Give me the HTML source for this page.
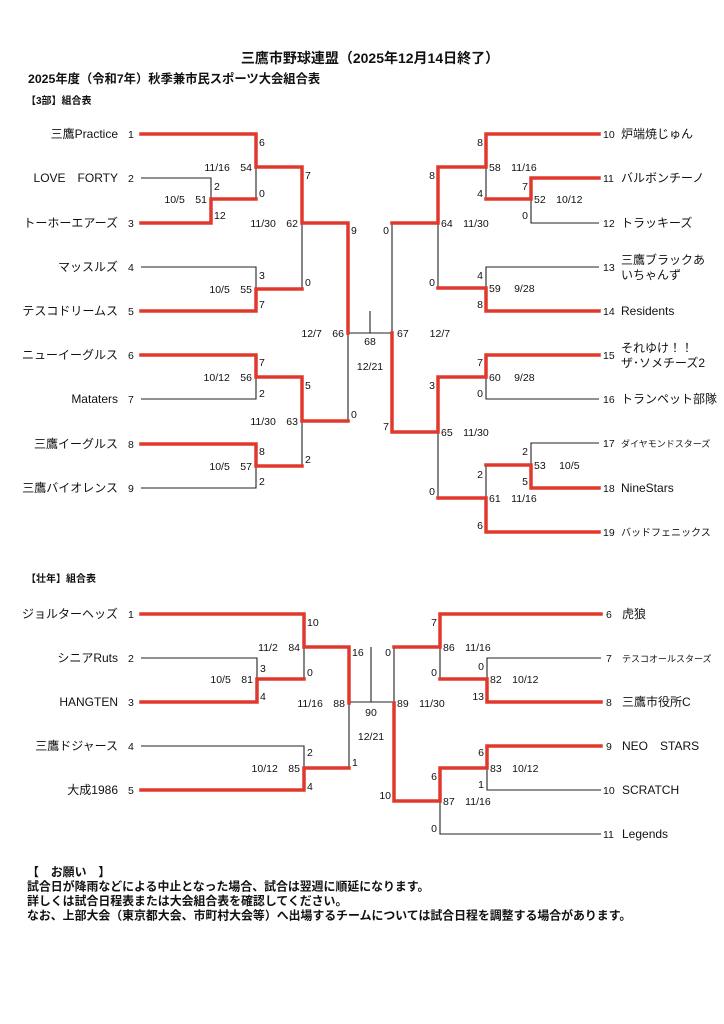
<!DOCTYPE html>
<html><head><meta charset="utf-8"><style>
html,body{margin:0;padding:0;background:#fff;}
svg{display:block;}
text{font-family:"Liberation Sans","Noto Sans CJK JP",sans-serif;fill:#111;}
.t{font-size:12px;}
.s{font-size:10.5px;}
.h{font-weight:bold;}
.r{fill:none;stroke:#e0392c;stroke-width:3.5;stroke-linejoin:miter;stroke-linecap:square;}
.k{fill:none;stroke:#222;stroke-width:1.1;}
</style></head><body>
<svg width="724" height="1024" viewBox="0 0 724 1024" xmlns="http://www.w3.org/2000/svg">
<text x="370" y="63" text-anchor="middle" class="h" font-size="14">三鷹市野球連盟（2025年12月14日終了）</text>
<text x="28" y="83" class="h" font-size="12.3">2025年度（令和7年）秋季兼市民スポーツ大会組合表</text>
<text x="26" y="104" class="h" font-size="10">【3部】組合表</text>
<text x="26" y="582" class="h" font-size="10">【壮年】組合表</text>

<!-- TOP LEFT black -->
<path class="k" d="M141 178H211V199 M256 167V199 M141 267H256V289 M302 223V289 M141 399H256V377 M302 421V466 M141 488H256V466 M348 333V421 M348 333H392 M370 311V333 M392 223V333"/>
<!-- TOP LEFT red -->
<path class="r" d="M141 134H256V167H302V223H348V333"/>
<path class="r" d="M141 223H211V199H256"/>
<path class="r" d="M141 311H256V289H302"/>
<path class="r" d="M141 355H256V377H302V421H348"/>
<path class="r" d="M141 444H256V466H302"/>
<!-- TOP RIGHT black -->
<path class="k" d="M486 167V199 M599 223H531V199 M438 223V288 M599 267H486V288 M599 399H486V377 M438 432V498 M599 443H531V465 M486 465V498"/>
<path class="r" d="M599 134H486V167H438V223H392"/>
<path class="r" d="M599 178H531V199H486"/>
<path class="r" d="M599 311H486V288H438"/>
<path class="r" d="M599 355H486V377H438V432H392V333"/>
<path class="r" d="M599 488H531V465H486"/>
<path class="r" d="M599 532H486V498H438"/>

<!-- top left names -->
<g class="t" text-anchor="end">
<text x="118" y="138">三鷹Practice</text>
<text x="118" y="182">LOVE　FORTY</text>
<text x="118" y="227">トーホーエアーズ</text>
<text x="118" y="271">マッスルズ</text>
<text x="118" y="315">テスコドリームス</text>
<text x="118" y="359">ニューイーグルス</text>
<text x="118" y="403">Mataters</text>
<text x="118" y="448">三鷹イーグルス</text>
<text x="118" y="492">三鷹バイオレンス</text>
</g>
<g class="s">
<text x="128" y="138">1</text><text x="128" y="182">2</text><text x="128" y="227">3</text><text x="128" y="271">4</text><text x="128" y="315">5</text><text x="128" y="359">6</text><text x="128" y="403">7</text><text x="128" y="448">8</text><text x="128" y="492">9</text>
<text x="259" y="146">6</text><text x="214" y="190">2</text><text x="259" y="197">0</text><text x="214" y="219">12</text>
<text x="305" y="179">7</text><text x="351" y="234">9</text>
<text x="259" y="279">3</text><text x="305" y="286">0</text><text x="259" y="308">7</text>
<text x="259" y="366">7</text><text x="305" y="389">5</text><text x="259" y="397">2</text><text x="351" y="418">0</text>
<text x="259" y="455">8</text><text x="305" y="463">2</text><text x="259" y="485">2</text>
</g>
<g class="s" text-anchor="end">
<text x="252" y="171">11/16　54</text>
<text x="207" y="203">10/5　51</text>
<text x="298" y="227">11/30　62</text>
<text x="252" y="293">10/5　55</text>
<text x="344" y="337">12/7　66</text>
<text x="252" y="381">10/12　56</text>
<text x="298" y="425">11/30　63</text>
<text x="252" y="470">10/5　57</text>
</g>
<g class="s" text-anchor="middle">
<text x="370" y="345">68</text>
<text x="370" y="370">12/21</text>
</g>
<g class="s">
<text x="397" y="337">67　　12/7</text>
<text x="489" y="171">58　11/16</text>
<text x="534" y="203">52　10/12</text>
<text x="441" y="227">64　11/30</text>
<text x="489" y="292">59　 9/28</text>
<text x="489" y="381">60　 9/28</text>
<text x="441" y="436">65　11/30</text>
<text x="534" y="469">53　 10/5</text>
<text x="489" y="502">61　11/16</text>
</g>
<g class="s" text-anchor="end">
<text x="389" y="234">0</text><text x="389" y="430">7</text>
<text x="483" y="146">8</text><text x="435" y="179">8</text><text x="528" y="190">7</text><text x="483" y="197">4</text><text x="528" y="219">0</text>
<text x="483" y="279">4</text><text x="435" y="286">0</text><text x="483" y="308">8</text>
<text x="483" y="366">7</text><text x="435" y="389">3</text><text x="483" y="397">0</text>
<text x="528" y="455">2</text><text x="483" y="478">2</text><text x="528" y="485">5</text><text x="435" y="495">0</text><text x="483" y="529">6</text>
</g>
<g class="s">
<text x="603" y="138">10</text><text x="603" y="182">11</text><text x="603" y="227">12</text><text x="603" y="271">13</text><text x="603" y="315">14</text><text x="603" y="359">15</text><text x="603" y="403">16</text><text x="603" y="447">17</text><text x="603" y="492">18</text><text x="603" y="536">19</text>
</g>
<g class="t">
<text x="621" y="138">炉端焼じゅん</text>
<text x="621" y="182">バルボンチーノ</text>
<text x="621" y="227">トラッキーズ</text>
<text x="621" y="264">三鷹ブラックあ</text>
<text x="621" y="279">いちゃんず</text>
<text x="621" y="315">Residents</text>
<text x="621" y="352">それゆけ！！</text>
<text x="621" y="367">ザ･ソメチーズ2</text>
<text x="621" y="403">トランペット部隊</text>
<text x="621" y="447" font-size="9">ダイヤモンドスターズ</text>
<text x="621" y="492">NineStars</text>
<text x="621" y="536" font-size="10">バッドフェニックス</text>
</g>

<!-- BOTTOM -->
<path class="k" d="M141 658H257V679 M304 647V679 M141 746H304V768 M349 703V768 M349 702H394 M371 647V702 M394 647V703 M440 647V679 M601 658H487V679 M601 790H487V768 M601 834H440V801"/>
<path class="r" d="M141 614H304V647H349V703"/>
<path class="r" d="M141 702H257V679H304"/>
<path class="r" d="M141 790H304V768H349"/>
<path class="r" d="M601 614H440V647H394"/>
<path class="r" d="M601 702H487V679H440"/>
<path class="r" d="M601 746H487V768H440V801H394V703"/>

<g class="t" text-anchor="end">
<text x="118" y="618">ジョルターヘッズ</text>
<text x="118" y="662">シニアRuts</text>
<text x="118" y="706">HANGTEN</text>
<text x="118" y="750">三鷹ドジャース</text>
<text x="118" y="794">大成1986</text>
</g>
<g class="s">
<text x="128" y="618">1</text><text x="128" y="662">2</text><text x="128" y="706">3</text><text x="128" y="750">4</text><text x="128" y="794">5</text>
<text x="307" y="626">10</text><text x="260" y="672">3</text><text x="307" y="676">0</text><text x="260" y="700">4</text>
<text x="352" y="656">16</text><text x="307" y="756">2</text><text x="352" y="766">1</text><text x="307" y="790">4</text>
<text x="397" y="707">89　11/30</text>
<text x="443" y="651">86　11/16</text>
<text x="490" y="683">82　10/12</text>
<text x="490" y="772">83　10/12</text>
<text x="443" y="805">87　11/16</text>
</g>
<g class="s" text-anchor="end">
<text x="300" y="651">11/2　84</text>
<text x="253" y="683">10/5　81</text>
<text x="345" y="707">11/16　88</text>
<text x="300" y="772">10/12　85</text>
<text x="391" y="656">0</text><text x="391" y="799">10</text>
<text x="437" y="626">7</text><text x="437" y="676">0</text><text x="484" y="670">0</text><text x="484" y="700">13</text>
<text x="484" y="756">6</text><text x="484" y="788">1</text><text x="437" y="780">6</text><text x="437" y="832">0</text>
</g>
<g class="s" text-anchor="middle">
<text x="371" y="716">90</text>
<text x="371" y="740">12/21</text>
</g>
<g class="s">
<text x="606" y="618">6</text><text x="606" y="662">7</text><text x="606" y="706">8</text><text x="606" y="750">9</text><text x="603" y="794">10</text><text x="603" y="838">11</text>
</g>
<g class="t">
<text x="622" y="618">虎狼</text>
<text x="622" y="662" font-size="9">テスコオールスターズ</text>
<text x="622" y="706">三鷹市役所C</text>
<text x="622" y="750">NEO　STARS</text>
<text x="622" y="794">SCRATCH</text>
<text x="622" y="838">Legends</text>
</g>

<g class="h" font-size="11.9">
<text x="27" y="876">【　お願い　】</text>
<text x="27" y="890.5">試合日が降雨などによる中止となった場合、試合は翌週に順延になります。</text>
<text x="27" y="905">詳しくは試合日程表または大会組合表を確認してください。</text>
<text x="27" y="919.5">なお、上部大会（東京都大会、市町村大会等）へ出場するチームについては試合日程を調整する場合があります。</text>
</g>
</svg>
</body></html>
